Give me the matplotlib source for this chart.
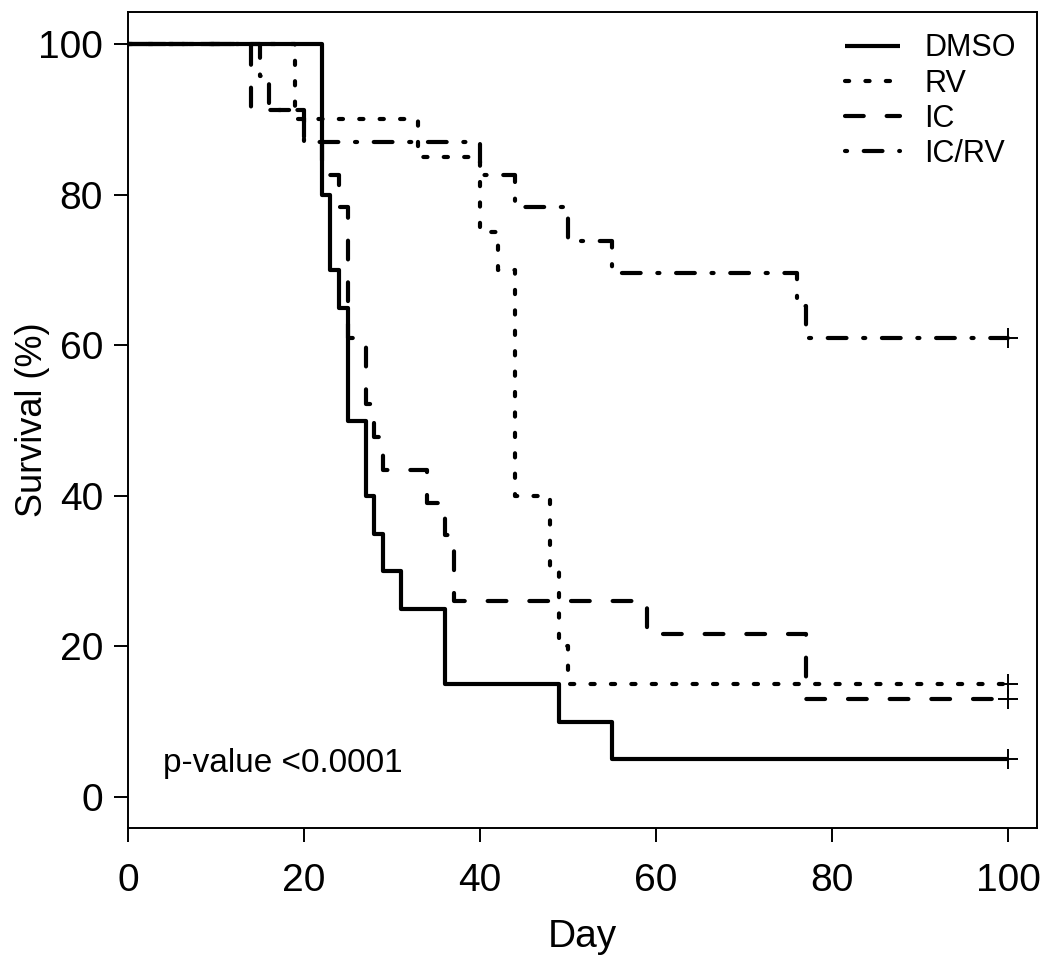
import matplotlib
matplotlib.use("Agg")
import matplotlib.pyplot as plt

plt.rcParams['font.family'] = ['Liberation Sans', 'DejaVu Sans']

# Kaplan-Meier steps: day of event, survival (%) after it
dmso_days = [0, 22, 23, 24, 25, 27, 28, 29, 31, 36, 49, 55, 100]
dmso_surv = [100, 80, 70, 65, 50, 40, 35, 30, 25, 15, 10, 5, 5]

rv_days = [0, 19, 33, 40, 42, 44, 48, 49, 50, 100]
rv_surv = [100, 90, 85, 75, 70, 40, 30, 20, 15, 15]

ic_days = [0, 14, 20, 22, 24, 25, 27, 28, 29, 34, 36, 37, 59, 77, 100]
ic_surv = [100, 91.3, 87.0, 82.6, 78.3, 60.9, 52.2, 47.8, 43.5, 39.1, 34.8,
           26.1, 21.7, 13.0, 13.0]

icrv_days = [0, 15, 16, 20, 40, 44, 50, 55, 76, 77, 100]
icrv_surv = [100, 95.7, 91.3, 87.0, 82.6, 78.3, 73.9, 69.6, 65.2, 60.9, 60.9]

labels = ["DMSO", "RV", "IC", "IC/RV"]
styles = ["-", (0, (1, 3.9)), (0, (4.5, 5.5)), (0, (0.5, 4, 4.5, 4))]

fig = plt.figure(figsize=(10.5, 9.64), dpi=100)
ax = fig.add_axes([128/1050, 1 - 828/964, (1037 - 128)/1050, (828 - 12)/964])

series = [(dmso_days, dmso_surv), (rv_days, rv_surv),
          (ic_days, ic_surv), (icrv_days, icrv_surv)]
for (d, s), lab, ls in zip(series, labels, styles):
    ax.step(d, s, where="post", color="black", lw=3.0, linestyle=ls,
            label=lab, dash_capstyle="round", solid_capstyle="butt")
    # censored at end of follow-up
    ax.plot(d[-1], s[-1], marker="+", color="black", markersize=15, mew=1.4)

ax.set_xlim(0, 103.3)
ax.set_ylim(-4.1, 104.25)
ax.set_xticks([0, 20, 40, 60, 80, 100])
ax.set_yticks([0, 20, 40, 60, 80, 100])
ax.tick_params(axis="both", labelsize=28, length=10, width=1.4)
ax.tick_params(axis="x", pad=15)
ax.tick_params(axis="y", pad=8)
for sp in ax.spines.values():
    sp.set_linewidth(1.4)

ax.set_xlabel("Day", fontsize=28)
ax.set_ylabel("Survival (%)", fontsize=26)
ax.xaxis.set_label_coords(0.5, -0.112)
ax.yaxis.set_label_coords(-0.086, 0.5)

ax.text(4, 4.5, "p-value <0.0001", fontsize=24, ha="left", va="center")

ax.legend(loc="upper right", bbox_to_anchor=(1.0, 1.0), frameon=False,
          fontsize=22, handlelength=1.8, handletextpad=0.8,
          labelspacing=0.17, borderaxespad=0.3)

fig.savefig("out.png", dpi=100)
